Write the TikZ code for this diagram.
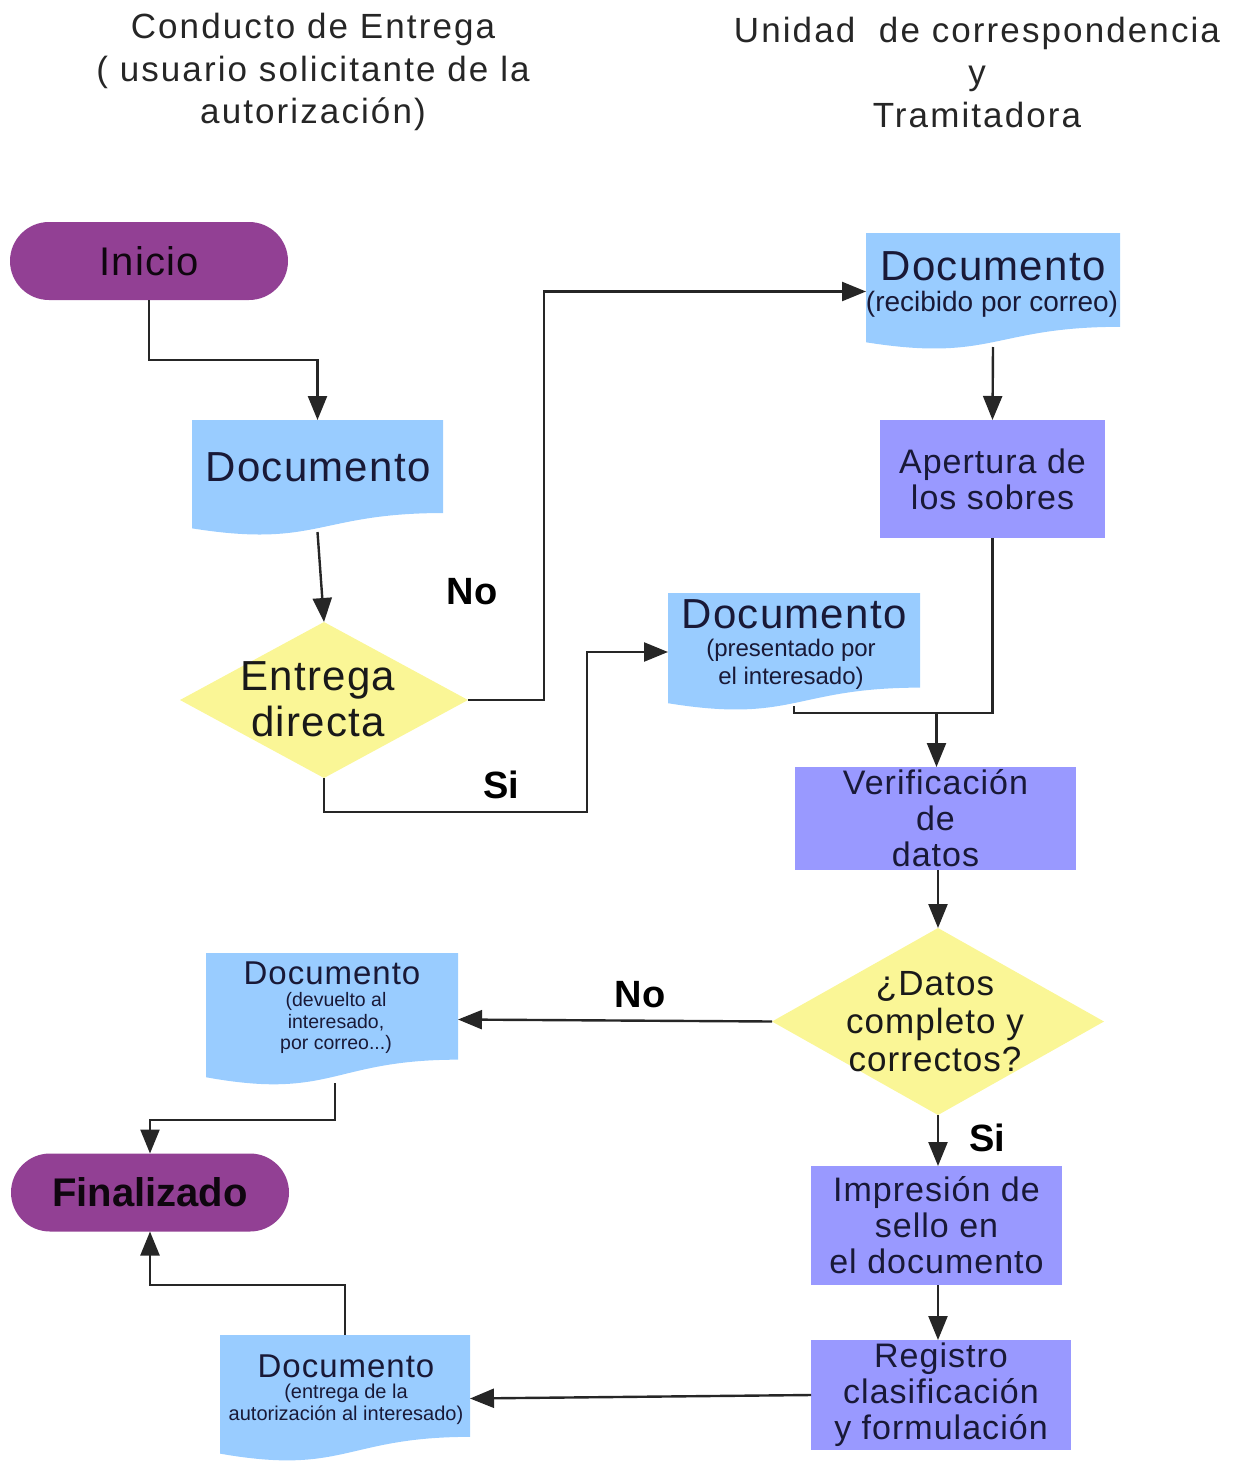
\documentclass[tikz,border=0pt]{standalone}
\usepackage{fontspec}
\setmainfont{Liberation Sans}
\newfontfamily\hdrfont[LetterSpace=6]{Liberation Sans}
\newfontfamily\boxfont[LetterSpace=3]{Liberation Sans}
\usetikzlibrary{shapes.geometric,arrows.meta,calc}
\definecolor{purp}{RGB}{146,64,148}
\definecolor{docblue}{RGB}{153,204,255}
\definecolor{procblue}{RGB}{153,153,255}
\definecolor{yel}{RGB}{250,246,150}
\definecolor{txtdark}{RGB}{25,25,55}
\begin{document}
\begin{tikzpicture}[x=1pt,y=-1pt,
  every node/.style={inner sep=0pt, outer sep=0pt},
  hdr/.style={align=center, text=black!85, font=\hdrfont\fontsize{35}{42.5}\selectfont},
  term/.style={rectangle, rounded corners=39pt, fill=purp, minimum width=278pt, minimum height=78pt, text=black!90!purp},
  proc/.style={rectangle, fill=procblue, align=center, text=txtdark, font=\boxfont\fontsize{34}{36}\selectfont},
  dec/.style={diamond, fill=yel},
  dtext/.style={align=center, text=txtdark},
  docbox/.style={rectangle,
    path picture={
      \fill[docblue] let \p1=(path picture bounding box.north west), \p2=(path picture bounding box.south east) in
        (\x1,\y1) -- (\x2,\y1) -- (\x2,{\y1+0.802*(\y2-\y1)})
        .. controls ({0.5*\x1+0.5*\x2},{\y1+0.802*(\y2-\y1)}) and ({0.5*\x1+0.5*\x2},{\y1+1.107*(\y2-\y1)}) ..
        (\x1,{\y1+0.934*(\y2-\y1)}) -- cycle;
    }},
  lbl/.style={font=\bfseries\fontsize{38}{40}\selectfont, text=black},
  conn/.style={line width=2.4pt, black!85},
  arr/.style={conn, -{Triangle[length=24pt,width=19pt]}}
]
\useasboundingbox (0,0) rectangle (1232,1461);

% headers
\node[hdr] (hleft) at (313,72) {Conducto de Entrega\\( usuario solicitante de la\\autorización)};
\node[hdr] (hright) at (977,72) {Unidad\ \ de correspondencia\\y\\Tramitadora};

% terminals
\node[term, font=\boxfont\fontsize{40}{42}\selectfont] (inicio) at (149,261) {Inicio};
\node[term, font=\bfseries\fontsize{40}{42}\selectfont] (final) at (150,1192.5) {Finalizado};

% documents
\node[docbox, minimum width=251pt, minimum height=116pt] (doc1) at (317.5,478) {};
\node[dtext, font=\boxfont\fontsize{42}{44}\selectfont] (doc1t) at (318,467) {Documento};

\node[docbox, minimum width=254pt, minimum height=117pt] (doc2) at (993,291.5) {};
\node[dtext, font=\boxfont\fontsize{42}{44}\selectfont] (doc2t) at (993,266) {Documento};
\node[dtext, font=\fontsize{28}{30}\selectfont] (doc2s) at (992,304) {(recibido por correo)};

\node[docbox, minimum width=252pt, minimum height=118pt] (doc3) at (794,652) {};
\node[dtext, font=\boxfont\fontsize{42}{44}\selectfont] (doc3t) at (794,614) {Documento};
\node[dtext, font=\fontsize{24}{28}\selectfont] (doc3s) at (791,664) {(presentado por\\el interesado)};

\node[docbox, minimum width=252pt, minimum height=133pt] (doc4) at (332,1019.5) {};
\node[dtext, font=\boxfont\fontsize{33}{35}\selectfont] (doc4t) at (332,973) {Documento};
\node[dtext, font=\fontsize{19.5}{21.5}\selectfont] (doc4s) at (336,1023) {(devuelto al\\interesado,\\por correo...)};

\node[docbox, minimum width=250pt, minimum height=127pt] (doc5) at (345,1398.5) {};
\node[dtext, font=\boxfont\fontsize{33}{35}\selectfont] (doc5t) at (346,1366) {Documento};
\node[dtext, font=\fontsize{20}{22}\selectfont] (doc5s) at (346,1404) {(entrega de la\\autorización al interesado)};

% decisions
\node[dec, minimum width=288pt, minimum height=156pt] (entrega) at (324,700) {};
\node[dtext, text=black!90, font=\boxfont\fontsize{42}{46}\selectfont] (entregat) at (318,699) {Entrega\\directa};
\node[dec, minimum width=332pt, minimum height=187pt] (datos) at (938,1021.5) {};
\node[dtext, text=black!90, font=\boxfont\fontsize{35}{38}\selectfont] (datost) at (935,1022) {¿Datos\\completo y\\correctos?};

% processes
\node[proc, minimum width=225pt, minimum height=118pt] (apertura) at (992.5,479) {Apertura de\\los sobres};
\node[proc, minimum width=281pt, minimum height=103pt] (verif) at (935.5,818.5) {Verificación\\de\\datos};
\node[proc, minimum width=251pt, minimum height=119pt] (impres) at (936.5,1225.5) {Impresión de\\sello en\\el documento};
\node[proc, minimum width=260pt, minimum height=110pt] (registro) at (941,1395) {Registro\\clasificación\\y formulación};

% connectors
\draw[arr] (inicio.south) -- ++(0,60) -| (doc1.north);
\draw[arr] ([yshift=4pt]doc1.south) -- (entrega.north);
\draw[arr] (entrega.east) -- ++(76,0) |- (doc2.west);
\draw[arr] (entrega.south) |- (587,812) |- (doc3.west);
\draw[arr] ([yshift=3pt]doc2.south) -- (apertura.north);
\coordinate (join) at (936.5,713);
\draw[conn] (apertura.south) |- (join);
\draw[conn] ([yshift=5pt]doc3.south) |- (join);
\draw[arr] (join) -- (join |- verif.north);
\draw[arr] (verif.south -| datos.north) -- (datos.north);
\draw[arr] (datos.west) -- (doc4.east);
\draw[arr] ([xshift=3pt,yshift=3pt]doc4.south) -- ++(0,37) -| (final.north);
\draw[arr] (datos.south) -- (datos.south |- impres.north);
\draw[arr] (impres.south -| datos.south) -- (datos.south |- registro.north);
\draw[arr] (registro.west) -- (doc5.east);
\draw[arr] (doc5.north) -- ++(0,-50) -| (final.south);

% labels
\node[lbl] (no1) at (472,592) {No};
\node[lbl] (si1) at (501,785) {Si};
\node[lbl] (no2) at (640,995) {No};
\node[lbl] (si2) at (987,1138) {Si};
\end{tikzpicture}
\end{document}
